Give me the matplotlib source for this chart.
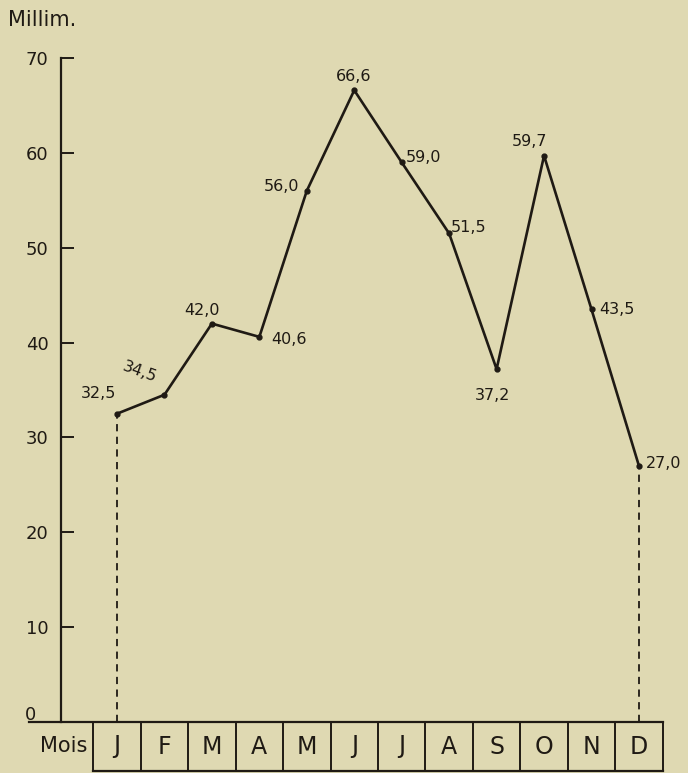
"""
Pluie mensuelle (millimètres) — reconstitution d'un graphique ancien.
"""

import matplotlib.pyplot as plt

MONTHS = ["J", "F", "M", "A", "M", "J", "J", "A", "S", "O", "N", "D"]
RAIN_MM = [32.5, 34.5, 42.0, 40.6, 56.0, 66.6, 59.0, 51.5, 37.2, 59.7, 43.5, 27.0]
VALUE_LABELS = ["32,5", "34,5", "42,0", "40,6", "56,0", "66,6",
                "59,0", "51,5", "37,2", "59,7", "43,5", "27,0"]
Y_TICKS = [10, 20, 30, 40, 50, 60, 70]

# label placement (pixels from each point) + rotation
LABEL_OFFSETS = [(-19, 20, 0), (-25, 23, -20), (-10, 13, 0), (30, -3, 0),
                 (-25, 4, 0), (-1, 14, 0), (22, 5, 0), (19, 6, 0),
                 (-4, -26, 0), (-15, 14, 0), (25, 0, 0), (25, 2, 0)]

PAPER = "#dfd9b2"
INK = "#1f1a14"

W, H = 688, 773
AX_LEFT, AX_TOP, AX_BOTTOM = 61, 58, 722      # pixel frame of the plot
X0_PX, STEP_PX = 117, 47.45                   # month 0 centre, month spacing
BOX_PX = 49                                   # height of the month strip

fig = plt.figure(figsize=(W / 100, H / 100), dpi=100)
fig.patch.set_facecolor(PAPER)
ax = fig.add_axes([AX_LEFT / W, 1 - AX_BOTTOM / H,
                   1 - AX_LEFT / W, (AX_BOTTOM - AX_TOP) / H])
ax.set_facecolor(PAPER)
ax.set_xlim((AX_LEFT - X0_PX) / STEP_PX, (W - X0_PX) / STEP_PX)
ax.set_ylim(0, 70)
px_per_mm = (AX_BOTTOM - AX_TOP) / 70


def xpx(p):
    return (p - X0_PX) / STEP_PX


for s in ("top", "right", "bottom"):
    ax.spines[s].set_visible(False)
ax.spines["left"].set_color(INK)
ax.spines["left"].set_linewidth(1.6)
ax.set_xticks([])
ax.set_yticks(Y_TICKS)
ax.set_yticklabels([str(v) for v in Y_TICKS], fontsize=13, color=INK)
ax.tick_params(axis="y", direction="in", length=9, width=1.4,
               colors=INK, pad=9)

x = list(range(len(MONTHS)))
ax.plot(x, RAIN_MM, "-", color=INK, lw=1.9, marker="o", ms=3.5,
        solid_joinstyle="miter", clip_on=False, zorder=3)
ax.vlines([x[0], x[-1]], 0, [RAIN_MM[0], RAIN_MM[-1]], colors=INK,
          linestyles=(0, (4, 3)), lw=1.3)

for xi, yi, txt, (dx, dy, rot) in zip(x, RAIN_MM, VALUE_LABELS, LABEL_OFFSETS):
    ax.annotate(txt, (xi, yi), xytext=(dx, dy), textcoords="offset pixels",
                ha="center", va="center", rotation=rot, fontsize=11.5,
                color=INK)

# baseline and month strip
y_box = -BOX_PX / px_per_mm
ax.plot([xpx(29), x[-1] + 0.5], [0, 0], color=INK, lw=1.6, clip_on=False)
ax.plot([-0.5, x[-1] + 0.5], [y_box, y_box], color=INK, lw=1.6, clip_on=False)
for xi in [-0.5] + [i + 0.5 for i in x]:
    ax.plot([xi, xi], [0, y_box], color=INK, lw=1.4, clip_on=False)
for xi, m in zip(x, MONTHS):
    ax.text(xi, y_box / 2, m, ha="center", va="center", fontsize=17,
            color=INK, clip_on=False)
ax.text(xpx(64), y_box / 2, "Mois", ha="center", va="center", fontsize=15,
        color=INK, clip_on=False)
ax.text(xpx(31), 0.7, "0", ha="center", va="center", fontsize=13,
        color=INK, clip_on=False)

fig.text(8 / W, 1 - 20 / H, "Millim.", ha="left", va="center",
         fontsize=15, color=INK)

fig.savefig("out.png", dpi=100, facecolor=fig.get_facecolor())
